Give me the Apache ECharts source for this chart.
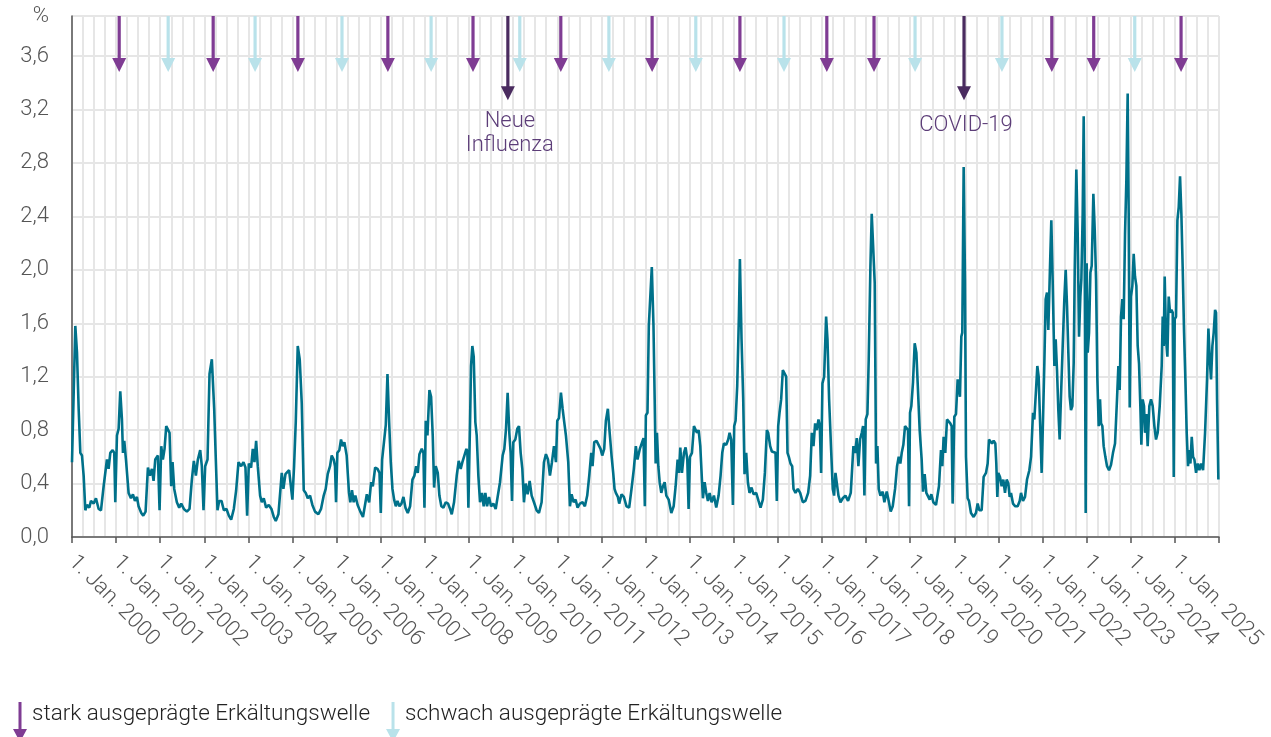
<!DOCTYPE html>
<html>
<head>
<meta charset="utf-8">
<script src="https://cdn.jsdelivr.net/npm/echarts@6/dist/echarts.min.js"></script>
<style>
  html, body { margin: 0; padding: 0; background: #fff; }
  #main { width: 1271px; height: 737px; }
</style>
</head>
<body>
<div id="main"></div>
<script>
// Anteil Arbeitsunfähigkeit (%), Zeitachse in Dezimaljahren
const verlauf = [
  [2000.000,0.56],[2000.075,1.58],[2000.113,1.38],[2000.151,0.96],[2000.189,0.63],[2000.226,0.61],[2000.264,0.46],[2000.302,0.20],[2000.340,0.24],[2000.392,0.22],[2000.430,0.27],[2000.491,0.25],[2000.543,0.29],[2000.604,0.21],[2000.657,0.20],[2000.717,0.38],[2000.755,0.37],[2000.792,0.58],[2000.830,0.51],[2000.868,0.63],[2000.921,0.65],[2000.958,0.63],[2000.981,0.26],
  [2001.019,0.76],[2001.057,0.81],[2001.094,1.09],[2001.132,0.88],[2001.155,0.63],[2001.185,0.72],[2001.223,0.58],[2001.283,0.33],[2001.336,0.29],[2001.381,0.32],[2001.426,0.27],[2001.472,0.30],[2001.509,0.23],[2001.570,0.18],[2001.615,0.16],[2001.668,0.19],[2001.721,0.52],[2001.766,0.46],[2001.811,0.51],[2001.849,0.42],[2001.887,0.58],[2001.947,0.61],[2001.985,0.20],
  [2002.023,0.68],[2002.060,0.58],[2002.098,0.66],[2002.136,0.83],[2002.174,0.84],[2002.211,0.78],[2002.249,0.38],[2002.279,0.56],[2002.317,0.36],[2002.377,0.26],[2002.430,0.22],[2002.475,0.25],[2002.536,0.21],[2002.604,0.19],[2002.664,0.21],[2002.717,0.43],[2002.762,0.57],[2002.808,0.46],[2002.853,0.58],[2002.906,0.65],[2002.943,0.53],[2002.981,0.20],
  [2003.019,0.53],[2003.072,0.58],[2003.117,1.22],[2003.170,1.33],[2003.223,0.96],[2003.260,0.58],[2003.298,0.20],[2003.336,0.27],[2003.389,0.27],[2003.442,0.20],[2003.502,0.21],[2003.555,0.16],[2003.608,0.13],[2003.668,0.21],[2003.721,0.35],[2003.774,0.56],[2003.834,0.53],[2003.887,0.56],[2003.932,0.52],[2003.970,0.16],
  [2004.008,0.55],[2004.060,0.52],[2004.098,0.66],[2004.136,0.56],[2004.174,0.72],[2004.211,0.53],[2004.264,0.31],[2004.302,0.26],[2004.347,0.29],[2004.400,0.22],[2004.460,0.24],[2004.521,0.21],[2004.574,0.15],[2004.619,0.12],[2004.679,0.17],[2004.755,0.48],[2004.792,0.36],[2004.838,0.47],[2004.883,0.46],[2004.921,0.50],[2004.958,0.51],[2004.996,0.28],
  [2005.034,0.53],[2005.072,0.86],[2005.117,1.43],[2005.162,1.33],[2005.208,1.00],[2005.253,0.35],[2005.298,0.33],[2005.343,0.29],[2005.396,0.31],[2005.449,0.24],[2005.509,0.19],[2005.585,0.17],[2005.645,0.21],[2005.706,0.31],[2005.751,0.36],[2005.796,0.47],[2005.849,0.53],[2005.887,0.61],[2005.932,0.58],[2005.962,0.53],[2005.985,0.26],
  [2006.015,0.63],[2006.060,0.65],[2006.098,0.73],[2006.136,0.68],[2006.174,0.71],[2006.226,0.61],[2006.279,0.33],[2006.309,0.26],[2006.347,0.35],[2006.385,0.26],[2006.423,0.31],[2006.475,0.24],[2006.536,0.19],[2006.596,0.15],[2006.683,0.32],[2006.736,0.26],[2006.781,0.41],[2006.819,0.38],[2006.872,0.52],[2006.925,0.51],[2006.970,0.48],
  [2007.000,0.18],[2007.030,0.58],[2007.075,0.57],[2007.113,0.84],[2007.151,1.22],[2007.189,0.86],[2007.226,0.56],[2007.264,0.36],[2007.302,0.28],[2007.340,0.23],[2007.377,0.27],[2007.423,0.23],[2007.468,0.25],[2007.513,0.30],[2007.558,0.22],[2007.611,0.18],[2007.664,0.23],[2007.717,0.43],[2007.762,0.46],[2007.800,0.53],[2007.838,0.48],[2007.875,0.62],[2007.928,0.66],[2007.966,0.63],[2007.989,0.22],
  [2008.019,0.87],[2008.057,0.76],[2008.102,1.10],[2008.140,1.05],[2008.177,0.76],[2008.208,0.37],[2008.245,0.53],[2008.291,0.48],[2008.328,0.31],[2008.372,0.23],[2008.419,0.22],[2008.472,0.26],[2008.525,0.25],[2008.570,0.21],[2008.608,0.17],[2008.660,0.26],[2008.721,0.46],[2008.766,0.57],[2008.811,0.51],[2008.849,0.56],[2008.894,0.61],[2008.940,0.66],[2008.962,0.64],[2008.985,0.22],
  [2009.023,0.86],[2009.045,1.28],[2009.075,1.43],[2009.106,1.35],[2009.143,0.86],[2009.174,0.76],[2009.211,0.46],[2009.249,0.26],[2009.294,0.33],[2009.332,0.23],[2009.370,0.33],[2009.408,0.23],[2009.453,0.30],[2009.498,0.23],[2009.551,0.25],[2009.604,0.21],[2009.649,0.22],[2009.702,0.41],[2009.762,0.61],[2009.800,0.66],[2009.838,0.81],[2009.875,1.08],[2009.913,0.78],[2009.943,0.63],[2009.974,0.27],
  [2010.004,0.71],[2010.049,0.73],[2010.094,0.81],[2010.132,0.83],[2010.170,0.63],[2010.208,0.51],[2010.245,0.26],[2010.283,0.40],[2010.328,0.32],[2010.374,0.42],[2010.419,0.31],[2010.472,0.26],[2010.532,0.20],[2010.585,0.18],[2010.645,0.26],[2010.698,0.56],[2010.743,0.62],[2010.789,0.58],[2010.834,0.46],[2010.879,0.56],[2010.925,0.68],[2010.970,0.56],
  [2011.000,0.87],[2011.038,0.89],[2011.083,1.08],[2011.121,0.96],[2011.158,0.86],[2011.196,0.76],[2011.249,0.56],[2011.287,0.23],[2011.325,0.32],[2011.370,0.26],[2011.415,0.28],[2011.460,0.22],[2011.513,0.25],[2011.574,0.26],[2011.626,0.23],[2011.679,0.31],[2011.725,0.46],[2011.770,0.63],[2011.800,0.53],[2011.838,0.71],[2011.891,0.72],[2011.936,0.73],[2011.981,0.66],
  [2012.019,0.61],[2012.064,0.66],[2012.102,0.87],[2012.147,0.96],[2012.185,0.79],[2012.230,0.61],[2012.268,0.48],[2012.298,0.36],[2012.328,0.33],[2012.374,0.30],[2012.404,0.25],[2012.457,0.32],[2012.509,0.30],[2012.570,0.23],[2012.630,0.22],[2012.683,0.36],[2012.736,0.51],[2012.781,0.68],[2012.819,0.58],[2012.872,0.66],[2012.917,0.67],[2012.955,0.74],[2012.985,0.23],
  [2013.008,0.91],[2013.045,0.93],[2013.075,1.58],[2013.113,1.58],[2013.143,2.02],[2013.181,1.58],[2013.208,1.03],[2013.230,0.55],[2013.260,0.78],[2013.291,0.53],[2013.321,0.41],[2013.358,0.33],[2013.396,0.38],[2013.434,0.41],[2013.472,0.31],[2013.525,0.28],[2013.585,0.18],[2013.638,0.23],[2013.683,0.38],[2013.728,0.58],[2013.758,0.48],[2013.789,0.67],[2013.826,0.48],[2013.872,0.63],[2013.909,0.67],[2013.947,0.58],[2013.977,0.21],
  [2014.008,0.60],[2014.053,0.63],[2014.098,0.83],[2014.128,0.84],[2014.166,0.78],[2014.204,0.80],[2014.242,0.68],[2014.279,0.43],[2014.302,0.29],[2014.340,0.41],[2014.377,0.33],[2014.415,0.27],[2014.453,0.33],[2014.498,0.26],[2014.551,0.31],[2014.604,0.22],[2014.657,0.31],[2014.702,0.46],[2014.740,0.63],[2014.777,0.70],[2014.830,0.69],[2014.875,0.73],[2014.906,0.78],[2014.943,0.73],[2014.981,0.24],
  [2015.011,0.83],[2015.042,0.87],[2015.079,1.13],[2015.117,1.65],[2015.140,2.08],[2015.177,1.48],[2015.215,1.03],[2015.245,0.47],[2015.283,0.63],[2015.321,0.41],[2015.358,0.33],[2015.404,0.37],[2015.449,0.32],[2015.509,0.33],[2015.562,0.27],[2015.608,0.22],[2015.660,0.28],[2015.706,0.48],[2015.751,0.80],[2015.781,0.78],[2015.826,0.68],[2015.864,0.64],[2015.909,0.65],[2015.947,0.63],[2015.977,0.27],
  [2016.008,0.83],[2016.038,0.93],[2016.075,1.03],[2016.113,1.25],[2016.158,1.25],[2016.189,1.20],[2016.219,0.63],[2016.249,0.60],[2016.287,0.55],[2016.325,0.53],[2016.355,0.36],[2016.400,0.33],[2016.453,0.36],[2016.506,0.33],[2016.566,0.26],[2016.626,0.27],[2016.687,0.33],[2016.732,0.46],[2016.770,0.78],[2016.808,0.68],[2016.845,0.85],[2016.883,0.80],[2016.921,0.88],[2016.951,0.83],[2016.981,0.48],
  [2017.011,1.15],[2017.049,1.20],[2017.094,1.65],[2017.125,1.48],[2017.162,1.03],[2017.208,0.65],[2017.245,0.36],[2017.275,0.31],[2017.306,0.48],[2017.343,0.48],[2017.374,0.31],[2017.419,0.26],[2017.472,0.29],[2017.532,0.31],[2017.592,0.27],[2017.653,0.33],[2017.713,0.68],[2017.751,0.63],[2017.789,0.74],[2017.826,0.53],[2017.864,0.73],[2017.902,0.78],[2017.932,0.83],[2017.962,0.31],[2017.992,0.88],
  [2018.030,0.92],[2018.060,1.33],[2018.098,2.02],[2018.128,2.42],[2018.166,2.42],[2018.196,1.90],[2018.226,0.55],[2018.257,0.68],[2018.287,0.36],[2018.325,0.31],[2018.377,0.34],[2018.415,0.26],[2018.468,0.34],[2018.513,0.27],[2018.558,0.19],[2018.604,0.23],[2018.657,0.36],[2018.702,0.53],[2018.740,0.60],[2018.777,0.55],[2018.808,0.63],[2018.845,0.69],[2018.883,0.83],[2018.928,0.83],[2018.951,0.80],[2018.974,0.23],[2018.996,0.93],
  [2019.026,0.98],[2019.064,1.16],[2019.102,1.45],[2019.140,1.38],[2019.170,1.15],[2019.215,0.80],[2019.260,0.58],[2019.291,0.34],[2019.328,0.47],[2019.366,0.33],[2019.404,0.34],[2019.442,0.28],[2019.479,0.32],[2019.525,0.26],[2019.585,0.24],[2019.652,0.38],[2019.698,0.65],[2019.728,0.53],[2019.758,0.75],[2019.796,0.63],[2019.834,0.88],[2019.872,0.89],[2019.909,0.85],[2019.940,0.83],[2019.962,0.25],
  [2020.000,0.90],[2020.038,0.92],[2020.076,1.18],[2020.106,1.19],[2020.128,1.05],[2020.159,1.50],[2020.181,1.53],[2020.212,2.77],[2020.242,1.93],[2020.265,0.60],[2020.302,0.29],[2020.333,0.27],[2020.378,0.18],[2020.438,0.15],[2020.491,0.18],[2020.529,0.25],[2020.567,0.20],[2020.620,0.20],[2020.665,0.45],[2020.718,0.48],[2020.756,0.55],[2020.786,0.73],[2020.816,0.74],[2020.854,0.70],[2020.892,0.72],[2020.930,0.70],[2020.952,0.55],[2020.975,0.30],[2020.998,0.48],
  [2021.036,0.45],[2021.073,0.38],[2021.111,0.43],[2021.149,0.33],[2021.187,0.43],[2021.225,0.40],[2021.255,0.30],[2021.285,0.33],[2021.330,0.25],[2021.383,0.23],[2021.436,0.23],[2021.482,0.27],[2021.512,0.33],[2021.557,0.27],[2021.603,0.30],[2021.648,0.43],[2021.701,0.50],[2021.739,0.60],[2021.784,0.93],[2021.814,0.88],[2021.852,1.10],[2021.882,1.28],[2021.912,1.20],[2021.950,0.80],[2021.980,0.48],
  [2022.011,0.88],[2022.041,1.30],[2022.071,1.78],[2022.101,1.83],[2022.131,1.55],[2022.169,2.02],[2022.199,2.37],[2022.229,1.93],[2022.268,1.28],[2022.298,1.48],[2022.328,1.25],[2022.358,0.95],[2022.388,0.73],[2022.418,1.05],[2022.457,1.43],[2022.494,1.78],[2022.525,2.00],[2022.555,1.73],[2022.585,1.38],[2022.615,1.05],[2022.645,0.95],[2022.676,0.98],[2022.706,1.30],[2022.729,1.98],[2022.766,2.75],[2022.797,2.27],[2022.827,1.50],[2022.857,1.80],[2022.880,1.93],[2022.910,2.42],[2022.933,3.15],[2022.955,2.17],[2022.978,0.18],
  [2023.001,2.05],[2023.024,1.38],[2023.054,1.53],[2023.085,1.98],[2023.115,2.03],[2023.152,2.57],[2023.183,2.30],[2023.213,1.93],[2023.243,1.18],[2023.273,0.83],[2023.303,1.03],[2023.326,0.85],[2023.356,0.83],[2023.386,0.68],[2023.424,0.60],[2023.462,0.53],[2023.507,0.50],[2023.552,0.54],[2023.597,0.63],[2023.643,0.70],[2023.688,1.03],[2023.719,1.28],[2023.749,1.10],[2023.779,1.65],[2023.809,1.78],[2023.839,1.63],[2023.870,2.27],[2023.900,2.67],[2023.930,3.32],[2023.953,2.42],[2023.976,0.97],
  [2024.006,1.80],[2024.036,1.88],[2024.066,2.12],[2024.096,1.95],[2024.127,1.88],[2024.157,1.43],[2024.187,1.30],[2024.217,0.98],[2024.240,0.69],[2024.270,1.03],[2024.300,0.98],[2024.323,0.78],[2024.353,0.92],[2024.383,0.68],[2024.421,0.98],[2024.459,1.03],[2024.497,0.98],[2024.535,0.83],[2024.572,0.73],[2024.610,0.78],[2024.656,0.98],[2024.701,1.28],[2024.724,1.65],[2024.747,1.43],[2024.769,1.95],[2024.800,1.48],[2024.830,1.35],[2024.860,1.80],[2024.890,1.68],[2024.921,1.70],[2024.951,1.68],[2024.974,0.45],[2024.996,1.63],
  [2025.026,1.65],[2025.057,2.37],[2025.087,2.47],[2025.117,2.70],[2025.147,2.42],[2025.178,2.00],[2025.208,1.53],[2025.238,1.18],[2025.268,0.78],[2025.298,0.53],[2025.321,0.65],[2025.352,0.55],[2025.382,0.75],[2025.412,0.60],[2025.442,0.58],[2025.480,0.48],[2025.518,0.55],[2025.556,0.50],[2025.593,0.55],[2025.639,0.50],[2025.684,0.78],[2025.729,1.18],[2025.760,1.56],[2025.790,1.33],[2025.820,1.18],[2025.850,1.43],[2025.880,1.53],[2025.911,1.70],[2025.933,1.68],[2025.956,1.03],[2025.986,0.43]
];

// Beginn der Erkältungswellen (Dezimaljahre)
const starkeWellen = [2001.07, 2003.20, 2005.12, 2007.16, 2009.09, 2011.08, 2013.15, 2015.14, 2017.11, 2018.18, 2022.21, 2023.16, 2025.14];
const schwacheWellen = [2002.18, 2004.15, 2006.12, 2008.14, 2010.15, 2012.17, 2014.14, 2016.14, 2019.11, 2021.08, 2024.09];
const sonderWellen = [2009.88, 2020.22];
const sonderTexte = ['Neue\nInfluenza', 'COVID-19'];

const jahrStart = 2000;
const jahrEnde = 2026;
const yMax = 3.9;

const schrift = 'Roboto';

var myChart = echarts.init(document.getElementById('main'));

function pfeil(spitzenWert, texte) {
  return function (params, api) {
    const x = api.value(0);
    const oben = api.coord([x, api.value(1)]);
    const spitze = api.coord([x, spitzenWert]);
    const farbe = api.visual('color');
    const kinder = [
      {
        type: 'line',
        shape: { x1: oben[0], y1: oben[1], x2: spitze[0], y2: spitze[1] - 10 },
        style: { stroke: farbe, lineWidth: 3.2 }
      },
      {
        type: 'polygon',
        shape: { points: [[spitze[0] - 7, spitze[1] - 14], [spitze[0] + 7, spitze[1] - 14], [spitze[0], spitze[1]]] },
        style: { fill: farbe }
      }
    ];
    if (texte) {
      const einzeilig = texte[params.dataIndex].indexOf('\n') < 0;
      kinder.push({
        type: 'text',
        style: {
          text: texte[params.dataIndex],
          x: spitze[0] + 2,
          y: spitze[1] + (einzeilig ? 13 : 9),
          align: 'center',
          verticalAlign: 'top',
          fill: '#5c3d78',
          fontFamily: schrift,
          fontWeight: 300,
          fontSize: 22,
          lineHeight: 24
        }
      });
    }
    return { type: 'group', children: kinder };
  };
}

const gitter = { color: '#e6e6e6', width: 2 };

var option = {
  animation: false,
  textStyle: { fontFamily: schrift },
  grid: { left: 72, right: 52, top: 16, bottom: 200, containLabel: false, outerBoundsMode: 'none' },
  legend: {
    left: 8,
    top: 697,
    itemWidth: 14,
    itemHeight: 40,
    itemGap: 16,
    icon: 'path://M5.5,0H8.5V27H14L7,40L0,27H5.5Z',
    data: ['stark ausgeprägte Erkältungswelle', 'schwach ausgeprägte Erkältungswelle'],
    formatter: function (name) { return '{t|' + name + '}'; },
    textStyle: {
      rich: {
        t: { fontFamily: schrift, fontWeight: 300, fontSize: 22.5, color: '#222', padding: [0, 0, 16, 0] }
      }
    },
    selectedMode: false
  },
  xAxis: {
    type: 'value',
    min: jahrStart,
    max: jahrEnde,
    interval: 1,
    axisLine: { lineStyle: { color: '#555', width: 1.5 } },
    axisTick: { show: true, length: 6, lineStyle: { color: '#555', width: 1.5 } },
    axisLabel: {
      rotate: -45,
      margin: 22,
      color: '#555',
      fontFamily: schrift,
      fontWeight: 300,
      fontSize: 22,
      formatter: function (v) { return v < jahrEnde ? '1. Jan. ' + v : ''; }
    },
    splitLine: { show: true, lineStyle: gitter },
    minorTick: { show: false, splitNumber: 4 },
    minorSplitLine: { show: true, lineStyle: gitter }
  },
  yAxis: {
    type: 'value',
    min: 0,
    max: yMax,
    interval: 0.4,
    axisLine: { show: true, lineStyle: { color: '#555', width: 1.5 } },
    axisTick: { show: false },
    axisLabel: {
      margin: 23,
      color: '#555',
      fontFamily: schrift,
      fontWeight: 300,
      fontSize: 22,
      formatter: function (v) { return v > 3.8 ? '%' : v.toFixed(1).replace('.', ','); }
    },
    splitLine: { show: true, lineStyle: { color: '#e6e6e6', width: 2 } }
  },
  series: [
    {
      name: 'Anteil',
      type: 'line',
      data: verlauf,
      showSymbol: false,
      lineStyle: { color: '#00718a', width: 2.6 },
      z: 3
    },
    {
      name: 'stark ausgeprägte Erkältungswelle',
      type: 'custom',
      itemStyle: { color: '#7f3c93' },
      data: starkeWellen.map(j => [j, yMax]),
      renderItem: pfeil(3.48),
      z: 4
    },
    {
      name: 'schwach ausgeprägte Erkältungswelle',
      type: 'custom',
      itemStyle: { color: '#b9e2ea' },
      data: schwacheWellen.map(j => [j, yMax]),
      renderItem: pfeil(3.48),
      z: 4
    },
    {
      name: 'Sonderereignis',
      type: 'custom',
      itemStyle: { color: '#4a2b5f' },
      data: sonderWellen.map(j => [j, yMax]),
      renderItem: pfeil(3.27, sonderTexte),
      z: 5
    }
  ]
};

option && myChart.setOption(option);
</script>
</body>
</html>
